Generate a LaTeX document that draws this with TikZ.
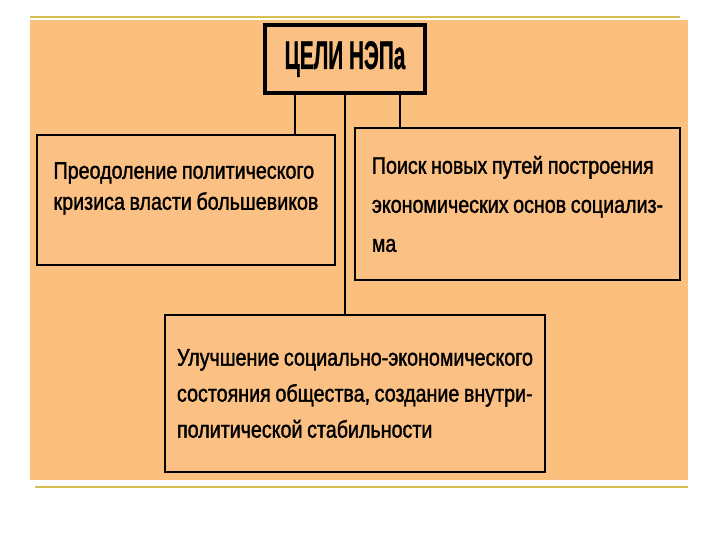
\documentclass[tikz,border=0pt]{standalone}
\usepackage{fontspec}
\setmainfont{Liberation Sans}[FakeStretch=0.82,FakeBold=1.4,WordSpace=0.85]
\newfontfamily\titlefont{Liberation Sans Bold}[FakeStretch=0.52,FakeBold=0.6]
\definecolor{bgorange}{RGB}{251,192,125}
\definecolor{boxfill}{RGB}{250,192,132}
\definecolor{goldline}{RGB}{214,190,80}
\tikzset{
  goalbox/.style={draw=black, line width=2.5pt, fill=boxfill, rectangle, inner sep=0pt, align=left, font=\fontsize{24}{29}\selectfont},
  link/.style={draw=black, line width=2.2pt}
}
\begin{document}
\begin{tikzpicture}[x=1pt,y=-1pt]
\useasboundingbox (0,0) rectangle (720,540);
\fill[white] (0,0) rectangle (720,540);
\fill[bgorange] (30,20) rectangle (688,480);
\draw[goldline, line width=2pt] (30,17) -- (680,17);
\draw[goldline, line width=2.5pt] (35,487) -- (688,487);

\node[draw=black, line width=4pt, fill=boxfill, minimum width=160pt, minimum height=68pt, inner sep=0pt, font=\titlefont\fontsize{40}{40}\selectfont] (title) at (345,59) {ЦЕЛИ НЭПа};

\node[goalbox, minimum width=298pt, minimum height=130pt, text depth=28pt, font=\fontsize{24}{31}\selectfont] (left) at (186,200)
  {Преодоление политического\\кризиса власти большевиков};
\node[goalbox, minimum width=325pt, minimum height=152pt, font=\fontsize{24}{39}\selectfont] (right) at (517.5,204)
  {Поиск новых путей построения\\экономических основ социализ-\\ма};
\node[goalbox, minimum width=380pt, minimum height=157pt, font=\fontsize{24}{36}\selectfont] (bottom) at (355,393.5)
  {Улучшение социально-экономического\\состояния общества, создание внутри-\\политической стабильности};

\draw[link] ([xshift=-50pt]title.south) -- ([xshift=-50pt]title.south |- left.north);
\draw[link] ([xshift=55pt]title.south) -- ([xshift=55pt]title.south |- right.north);
\draw[link] (title.south) -- (title.south |- bottom.north);
\end{tikzpicture}
\end{document}
